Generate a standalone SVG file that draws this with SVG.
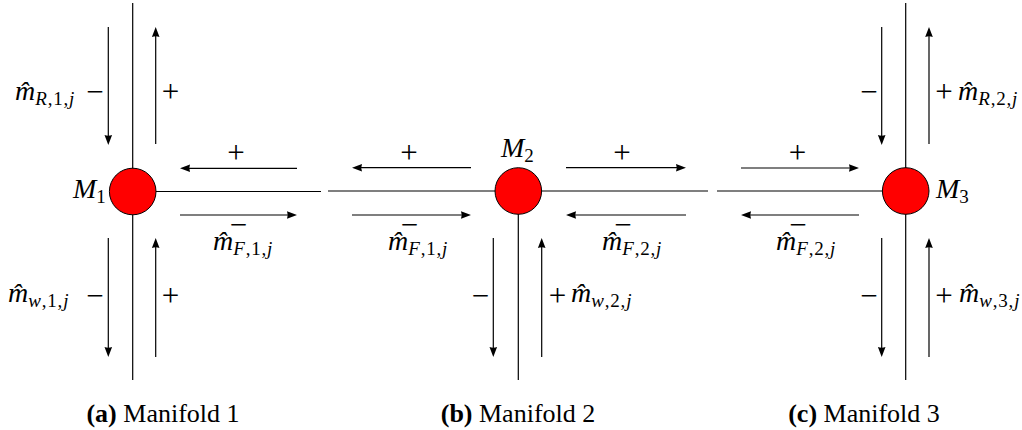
<svg xmlns="http://www.w3.org/2000/svg" width="1022" height="430" viewBox="0 0 1022 430">
<style>
.pipe{stroke:#000;stroke-width:1.2;fill:none}
.arr{stroke:#000;stroke-width:1.2;fill:none;marker-end:url(#ah)}
.node{fill:#ff0000;stroke:#000;stroke-width:1}
.m{font-family:"Liberation Serif",serif;font-style:italic;font-size:28px;fill:#000}
.s{font-size:19px;letter-spacing:0.8px}
.u{font-style:normal}
.sg{font-family:"Liberation Serif",serif;font-size:31px;fill:#000;text-anchor:middle}
.cap{font-family:"Liberation Serif",serif;font-size:26px;fill:#000;text-anchor:middle}
</style>
<defs>
<marker id="ah" markerUnits="userSpaceOnUse" viewBox="-1 -5 12 10" markerWidth="12" markerHeight="10" refX="2" refY="0" orient="auto">
<path d="M0,-3.8 L10,0 L0,3.8 Q1.5,0 0,-3.8 z" fill="#000"/>
</marker>
</defs>
<g id="connectors">
<line class="pipe" x1="132.7" y1="3" x2="132.7" y2="380"/>
<line class="pipe" x1="132.7" y1="191.5" x2="321" y2="191.5"/>
<line class="pipe" x1="328" y1="191" x2="708" y2="191"/>
<line class="pipe" x1="518.3" y1="191" x2="518.3" y2="380"/>
<line class="pipe" x1="717" y1="191" x2="905.7" y2="191"/>
<line class="pipe" x1="905.7" y1="3" x2="905.7" y2="380"/>
<line class="arr" x1="108.3" y1="27" x2="108.3" y2="137"/>
<line class="arr" x1="155.7" y1="144" x2="155.7" y2="35"/>
<line class="arr" x1="108.3" y1="238" x2="108.3" y2="349"/>
<line class="arr" x1="155.7" y1="357" x2="155.7" y2="246"/>
<line class="arr" x1="297" y1="168.3" x2="188" y2="168.3"/>
<line class="arr" x1="180" y1="215" x2="289" y2="215"/>
<line class="arr" x1="471" y1="167.7" x2="360" y2="167.7"/>
<line class="arr" x1="566" y1="167.7" x2="678" y2="167.7"/>
<line class="arr" x1="352" y1="215" x2="463" y2="215"/>
<line class="arr" x1="686" y1="215" x2="574" y2="215"/>
<line class="arr" x1="493.3" y1="238" x2="493.3" y2="349"/>
<line class="arr" x1="541.7" y1="357" x2="541.7" y2="246"/>
<line class="arr" x1="741" y1="168" x2="851" y2="168"/>
<line class="arr" x1="859" y1="215" x2="749" y2="215"/>
<line class="arr" x1="881.7" y1="27" x2="881.7" y2="137"/>
<line class="arr" x1="929" y1="144" x2="929" y2="35"/>
<line class="arr" x1="881.7" y1="238" x2="881.7" y2="349"/>
<line class="arr" x1="929" y1="357" x2="929" y2="246"/>
</g>
<g id="M1">
<circle class="node" cx="132.7" cy="191.5" r="23.3"/>
<text class="m" x="73" y="198">M<tspan class="s u" dy="5">1</tspan></text>
</g>
<g id="M2">
<circle class="node" cx="518.3" cy="191" r="23.3"/>
<text class="m" x="501" y="157">M<tspan class="s u" dy="5">2</tspan></text>
</g>
<g id="M3">
<circle class="node" cx="905.7" cy="191" r="23.3"/>
<text class="m" x="936" y="198">M<tspan class="s u" dy="5">3</tspan></text>
</g>
<g id="labels">
<text class="m" x="15" y="100">m&#x302;<tspan class="s" dy="5">R<tspan class="u">,1,</tspan>j</tspan></text>
<text class="sg" x="95" y="102">&#x2212;</text>
<text class="sg" x="170.5" y="102">+</text>
<text class="m" x="8" y="302">m&#x302;<tspan class="s" dy="5">w<tspan class="u">,1,</tspan>j</tspan></text>
<text class="sg" x="95" y="305.5">&#x2212;</text>
<text class="sg" x="170.5" y="305.5">+</text>
<text class="sg" x="236" y="163">+</text>
<text class="sg" x="238.5" y="235">&#x2212;</text>
<text class="m" x="213" y="250">m&#x302;<tspan class="s" dy="5">F<tspan class="u">,1,</tspan>j</tspan></text>
<text class="sg" x="409" y="163">+</text>
<text class="sg" x="622" y="163">+</text>
<text class="sg" x="409.5" y="235">&#x2212;</text>
<text class="m" x="388" y="250">m&#x302;<tspan class="s" dy="5">F<tspan class="u">,1,</tspan>j</tspan></text>
<text class="sg" x="623" y="235">&#x2212;</text>
<text class="m" x="602" y="250">m&#x302;<tspan class="s" dy="5">F<tspan class="u">,2,</tspan>j</tspan></text>
<text class="sg" x="480.5" y="305.5">&#x2212;</text>
<text class="sg" x="557.5" y="305.5">+</text>
<text class="m" x="571" y="302">m&#x302;<tspan class="s" dy="5">w<tspan class="u">,2,</tspan>j</tspan></text>
<text class="sg" x="869" y="102">&#x2212;</text>
<text class="sg" x="944" y="102">+</text>
<text class="m" x="958" y="100">m&#x302;<tspan class="s" dy="5">R<tspan class="u">,2,</tspan>j</tspan></text>
<text class="sg" x="797.5" y="163">+</text>
<text class="sg" x="798" y="235">&#x2212;</text>
<text class="m" x="776" y="250">m&#x302;<tspan class="s" dy="5">F<tspan class="u">,2,</tspan>j</tspan></text>
<text class="sg" x="869" y="305.5">&#x2212;</text>
<text class="sg" x="944" y="305.5">+</text>
<text class="m" x="959" y="302">m&#x302;<tspan class="s" dy="5">w<tspan class="u">,3,</tspan>j</tspan></text>
</g>
<g id="captions">
<text class="cap" x="163" y="422"><tspan font-weight="bold">(a)</tspan> Manifold 1</text>
<text class="cap" x="518" y="422"><tspan font-weight="bold">(b)</tspan> Manifold 2</text>
<text class="cap" x="864" y="422"><tspan font-weight="bold">(c)</tspan> Manifold 3</text>
</g>
</svg>
